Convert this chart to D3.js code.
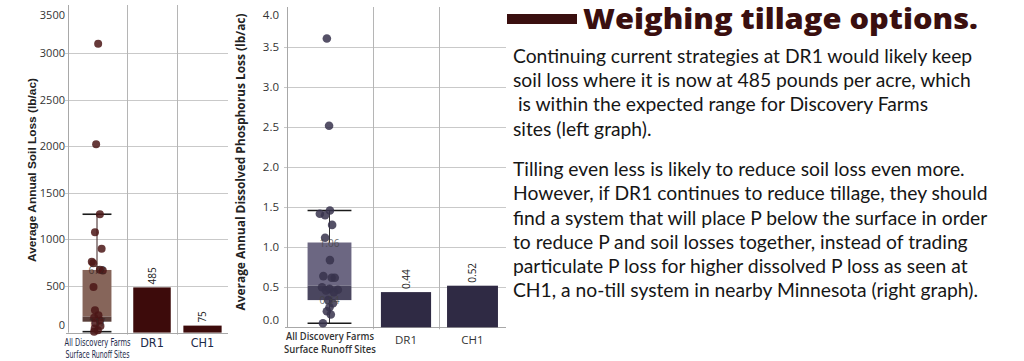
<!DOCTYPE html>
<html>
<head>
<meta charset="utf-8">
<script src="https://cdn.jsdelivr.net/npm/d3@7"></script>
<style>
  body { margin: 0; background: #fff; }
  svg { display: block; }
  text { white-space: pre; }
</style>
</head>
<body>
<script>
// values
var categories = ["All Discovery Farms|Surface Runoff Sites", "DR1", "CH1"];

var soilTicks = [0, 500, 1000, 1500, 2000, 2500, 3000, 3500];
var soilBars = [485, 75];                       // DR1, CH1
var soilBox = [10, 117, 172, 672, 1270];        // low whisker, q1, median, q3, high whisker
var soilPoints = [3100, 2020, 1270, 1076, 900, 760, 745, 675, 665, 490, 240, 185, 160, 130, 100, 70, 45, 25, 10];
var soilJitter = [0.04, -0.03, 0.1, -0.07, 0.16, -0.18, -0.13, 0.1, 0.2, -0.12, -0.07, 0.05, -0.1, 0.1, -0.05, 0.12, -0.08, 0.03, -0.1];

var phosTicks = [0, 0.5, 1, 1.5, 2, 2.5, 3, 3.5, 4];
var phosBars = [0.44, 0.52];
var phosBox = [0.05, 0.34, 0.52, 1.06, 1.46];
var phosPoints = [3.61, 2.52, 1.46, 1.42, 1.40, 1.28, 1.12, 0.84, 0.64, 0.62, 0.62, 0.50, 0.48, 0.47, 0.46, 0.44, 0.34, 0.30, 0.25, 0.20, 0.16, 0.05];
var phosJitter = [-0.06, -0.01, 0.01, -0.22, -0.1, 0.06, -0.1, 0.01, -0.14, 0.05, 0.12, -0.17, 0, 0.19, -0.08, 0.1, -0.03, 0.08, 0, -0.06, 0.03, -0.15];

var para1 = ["Continuing current strategies at DR1 would likely keep",
             "soil loss where it is now at 485 pounds per acre, which",
             " is within the expected range for Discovery Farms",
             "sites (left graph)."];
var para2 = ["Tilling even less is likely to reduce soil loss even more.",
             "However, if DR1 continues to reduce tillage, they should",
             "find a system that will place P below the surface in order",
             "to reduce P and soil losses together, instead of trading",
             "particulate P loss for higher dissolved P loss as seen at",
             "CH1, a no-till system in nearby Minnesota (right graph)."];

var width = 1024, height = 361;

var svg = d3.select("body").append("svg")
    .attr("width", width)
    .attr("height", height)
    .style("background", "#fff");

// squeeze a text horizontally around its anchor so it spans w pixels
function squeeze(t, x, y, w) {
    var len = t.node().getComputedTextLength();
    var k = len > 0 ? w / len : 1;
    t.attr("x", 0).attr("y", 0)
        .attr("transform", "translate(" + x + "," + y + ") scale(" + k + ",1)");
}

function drawPanel(opt) {
    var g = svg.append("g");
    var y = d3.scaleLinear().domain([0, opt.ticks[opt.ticks.length - 1]]).range([opt.zeroY, opt.topY]);
    var edge = d3.scaleLinear().domain([0, 1, 2, 3]).range(opt.edges);
    var center = function (i) { return (edge(i) + edge(i + 1)) / 2; };
    var band = function (i) { return edge(i + 1) - edge(i); };

    // horizontal grid
    g.selectAll(".hgrid")
        .data(opt.ticks.slice(1, -1))
        .enter().append("line")
        .attr("x1", edge(0) - 3).attr("x2", edge(3))
        .attr("y1", function (d) { return Math.round(y(d)) + 0.5; })
        .attr("y2", function (d) { return Math.round(y(d)) + 0.5; })
        .style("stroke", "#c9c9c9");

    // column separators
    g.selectAll(".vgrid")
        .data([1, 2])
        .enter().append("line")
        .attr("x1", function (d) { return Math.round(edge(d)) + 0.5; })
        .attr("x2", function (d) { return Math.round(edge(d)) + 0.5; })
        .attr("y1", opt.paneTop).attr("y2", opt.zeroY + 2)
        .style("stroke", "#b5b5b5");

    // axis lines
    g.append("line")
        .attr("x1", Math.round(edge(0)) + 0.5).attr("x2", Math.round(edge(0)) + 0.5)
        .attr("y1", opt.paneTop).attr("y2", opt.zeroY)
        .style("stroke", "#a8a8a8");
    g.append("line")
        .attr("x1", edge(0) - 2).attr("x2", edge(3))
        .attr("y1", Math.round(opt.zeroY) + 0.5).attr("y2", Math.round(opt.zeroY) + 0.5)
        .style("stroke", "#a8a8a8");

    // tick labels
    var axis = d3.axisLeft(y)
        .tickValues(opt.ticks)
        .tickFormat(opt.tickFormat)
        .tickSize(0)
        .tickPadding(opt.tickPad);
    var ax = g.append("g")
        .attr("transform", "translate(" + edge(0) + ",0)")
        .call(axis);
    ax.select(".domain").remove();
    ax.selectAll("text")
        .style("font-family", "'Open Sans', sans-serif")
        .style("font-size", opt.tickSize + "px")
        .style("fill", "#333");
    // Tableau keeps the end labels inside the pane
    ax.selectAll(".tick").filter(function (d) { return d === 0; })
        .select("text").attr("y", -opt.endNudge[0]);
    ax.selectAll(".tick").filter(function (d) { return d === opt.ticks[opt.ticks.length - 1]; })
        .select("text").attr("y", opt.endNudge[1]);

    // bars
    g.selectAll(".bar")
        .data(opt.bars)
        .enter().append("rect")
        .attr("x", function (d, i) { return center(i + 1) - band(i + 1) * opt.barFrac / 2; })
        .attr("width", function (d, i) { return band(i + 1) * opt.barFrac; })
        .attr("y", function (d) { return y(d); })
        .attr("height", function (d) { return opt.zeroY - y(d); })
        .style("fill", opt.barColor);

    g.selectAll(".barlabel")
        .data(opt.bars)
        .enter().append("text")
        .attr("transform", function (d, i) {
            return "translate(" + (center(i + 1) + 3.5) + "," + (y(d) - 3) + ") rotate(-90)";
        })
        .text(opt.valueFormat)
        .style("font-family", "'Open Sans', sans-serif")
        .style("font-size", "10px")
        .style("fill", "#222");

    // box plot
    var b = opt.box;
    var bw = band(0) * opt.boxFrac;
    var cx = center(0) + opt.boxShift;
    g.append("line")
        .attr("x1", cx).attr("x2", cx)
        .attr("y1", y(b[4])).attr("y2", y(b[0]))
        .style("stroke", opt.whiskerColor).style("stroke-width", 1);
    g.append("rect")
        .attr("x", cx - bw / 2).attr("width", bw)
        .attr("y", y(b[3])).attr("height", y(b[2]) - y(b[3]))
        .style("fill", opt.boxUpper);
    g.append("rect")
        .attr("x", cx - bw / 2).attr("width", bw)
        .attr("y", y(b[2])).attr("height", y(b[1]) - y(b[2]))
        .style("fill", opt.boxLower);
    g.selectAll(".cap")
        .data([b[0], b[4]])
        .enter().append("line")
        .attr("x1", cx - bw / 2).attr("x2", cx + bw / 2)
        .attr("y1", function (d) { return y(d); })
        .attr("y2", function (d) { return y(d); })
        .style("stroke", "#1a1a1a").style("stroke-width", 1.6);

    // points
    g.selectAll(".pt")
        .data(opt.points)
        .enter().append("circle")
        .attr("cx", function (d, i) { return cx + opt.jitter[i] * bw; })
        .attr("cy", function (d) { return y(d); })
        .attr("r", opt.r)
        .style("fill", opt.pointColor)
        .style("opacity", 0.85);

    g.selectAll(".boxlabel")
        .data([b[3], b[1]])
        .enter().append("text")
        .attr("x", cx)
        .attr("y", function (d) { return y(d) + 4; })
        .attr("text-anchor", "middle")
        .text(opt.valueFormat)
        .style("font-family", "'Open Sans', sans-serif")
        .style("font-size", "10px")
        .style("fill", opt.boxLabelColor)
        .style("opacity", 0.75);

    // axis title
    g.append("text")
        .attr("transform", "translate(" + opt.titleX + "," + opt.titleY + ") rotate(-90)")
        .attr("text-anchor", "middle")
        .attr("textLength", opt.titleLen)
        .attr("lengthAdjust", "spacingAndGlyphs")
        .text(opt.title)
        .style("font-family", opt.titleFont)
        .style("font-weight", "bold")
        .style("font-size", opt.titleSize + "px")
        .style("fill", "#222");

    // category labels
    categories.forEach(function (c, i) {
        var lines = c.split("|");
        lines.forEach(function (line, k) {
            var two = lines.length > 1;
            var t = g.append("text")
                .attr("x", center(i))
                .attr("y", two ? opt.catY2[k] : opt.catY1)
                .attr("text-anchor", "middle")
                .text(line)
                .style("font-family", opt.catFont)
                .style("font-weight", two ? opt.catWeight : "normal")
                .style("font-size", (two ? opt.catSize2 : opt.catSize1) + "px")
                .style("fill", opt.catColor);
            if (two) squeeze(t, center(i), opt.catY2[k], opt.catLen[k]);
        });
    });
}

drawPanel({
    ticks: soilTicks, bars: soilBars, box: soilBox, points: soilPoints, jitter: soilJitter,
    zeroY: 332.6, topY: 6.4, paneTop: 5, edges: [68, 127, 177, 228],
    tickFormat: d3.format("d"), valueFormat: d3.format("d"),
    tickPad: 3, tickSize: 11, endNudge: [8, 9],
    barFrac: 0.75, barColor: "#3d0b0b",
    boxFrac: 0.49, boxShift: -0.5, boxUpper: "#86655a", boxLower: "#5a3f3a",
    whiskerColor: "#3a2020", boxLabelColor: "#3a2826",
    pointColor: "#4b1616", r: 4,
    title: "Average Annual Soil Loss (lb/ac)", titleX: 36, titleY: 170, titleLen: 184,
    titleFont: "'Liberation Sans', Arial, sans-serif", titleSize: 11,
    catFont: "'Liberation Sans Narrow', 'DejaVu Sans Condensed', sans-serif", catWeight: "normal",
    catColor: "#1c2a4a", catY1: 347, catY2: [345.5, 358], catSize1: 12.5, catSize2: 11, catLen: [66, 64]
});

drawPanel({
    ticks: phosTicks, bars: phosBars, box: phosBox, points: phosPoints, jitter: phosJitter,
    zeroY: 327.3, topY: 7.3, paneTop: 7, edges: [287, 373, 439, 506],
    tickFormat: d3.format(".1f"), valueFormat: d3.format(".2f"),
    tickPad: 8, tickSize: 11.5, endNudge: [7, 8],
    barFrac: 0.76, barColor: "#2f2a44",
    boxFrac: 0.51, boxShift: -0.5, boxUpper: "#6c6782", boxLower: "#4a465f",
    whiskerColor: "#333", boxLabelColor: "#444",
    pointColor: "#37324c", r: 4.3,
    title: "Average Annual Dissolved Phosphorus Loss (lb/ac)", titleX: 245, titleY: 162, titleLen: 297,
    titleFont: "'Open Sans', sans-serif", titleSize: 11.5,
    catFont: "'Open Sans', sans-serif", catWeight: "600",
    catColor: "#333", catY1: 343.5, catY2: [339.5, 353], catSize1: 11.5, catSize2: 10.5, catLen: [88, 92]
});

// headline
svg.append("rect")
    .attr("x", 507).attr("y", 14)
    .attr("width", 70).attr("height", 10)
    .style("fill", "#3a0f0f");

svg.append("text")
    .attr("x", 583).attr("y", 29)
    .attr("textLength", 395)
    .attr("lengthAdjust", "spacingAndGlyphs")
    .text("Weighing tillage options.")
    .style("font-family", "'Open Sans', sans-serif")
    .style("font-weight", "800")
    .style("font-size", "28px")
    .style("fill", "#3a0f0f");

// body copy, squeezed horizontally to the width of the original Myriad setting
var body = svg.append("g");
var lines = body.selectAll("text")
    .data(para1.concat(para2))
    .enter().append("text")
    .attr("x", 0)
    .attr("y", function (d, i) {
        return i < para1.length ? 63 + i * 24.2 : 176 + (i - para1.length) * 24.3;
    })
    .text(function (d) { return d; })
    .style("font-family", "Lato, 'Open Sans', sans-serif")
    .style("font-size", "18.5px")
    .style("fill", "#161616");

var widest = 0;
lines.each(function () { widest = Math.max(widest, this.getComputedTextLength()); });
body.attr("transform", "translate(513,0) scale(" + (475 / widest) + ",1)");
</script>
</body>
</html>
